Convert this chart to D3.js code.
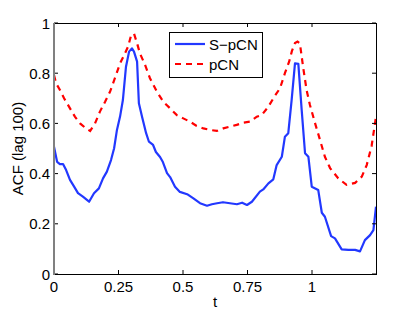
<!DOCTYPE html>
<html>
<head>
<meta charset="utf-8">
<script src="https://cdn.jsdelivr.net/npm/d3@7"></script>
<style>
  html, body { margin: 0; padding: 0; background: #fff; }
  svg { display: block; font-family: "Liberation Sans", Arial, sans-serif; }
</style>
</head>
<body>
<svg id="chart" width="415" height="312"></svg>
<script>
// S-pCN series (solid blue)
const sTime = [0, 0.012, 0.023, 0.035, 0.047, 0.062, 0.078, 0.093, 0.112, 0.136, 0.155, 0.174,
  0.190, 0.205, 0.221, 0.233, 0.244, 0.256, 0.267, 0.279, 0.291, 0.302, 0.310, 0.322, 0.329,
  0.341, 0.357, 0.368, 0.384, 0.395, 0.411, 0.422, 0.438, 0.450, 0.469, 0.488, 0.516, 0.539,
  0.566, 0.593, 0.612, 0.632, 0.655, 0.682, 0.709, 0.729, 0.748, 0.767, 0.798, 0.811, 0.831,
  0.850, 0.863, 0.883, 0.895, 0.908, 0.921, 0.934, 0.947, 0.960, 0.973, 0.986, 0.999, 1.024,
  1.038, 1.050, 1.074, 1.089, 1.115, 1.141, 1.167, 1.186, 1.205, 1.225, 1.238, 1.248];
const sAcf = [0.507, 0.447, 0.438, 0.438, 0.414, 0.375, 0.348, 0.322, 0.308, 0.288, 0.322, 0.341,
  0.381, 0.408, 0.454, 0.501, 0.574, 0.627, 0.693, 0.826, 0.886, 0.899, 0.886, 0.846, 0.680,
  0.627, 0.561, 0.527, 0.514, 0.486, 0.466, 0.446, 0.402, 0.386, 0.348, 0.327, 0.318, 0.302,
  0.282, 0.272, 0.278, 0.282, 0.286, 0.282, 0.278, 0.284, 0.275, 0.288, 0.328, 0.337, 0.361,
  0.377, 0.434, 0.467, 0.547, 0.561, 0.693, 0.839, 0.837, 0.653, 0.481, 0.467, 0.348, 0.335,
  0.244, 0.228, 0.151, 0.142, 0.098, 0.096, 0.096, 0.090, 0.135, 0.155, 0.175, 0.268];

// pCN series (dashed red)
const pTime = [0, 0.008, 0.023, 0.039, 0.062, 0.081, 0.101, 0.124, 0.140, 0.159, 0.178, 0.198,
  0.217, 0.236, 0.256, 0.275, 0.287, 0.298, 0.310, 0.322, 0.333, 0.353, 0.372, 0.399, 0.424,
  0.450, 0.476, 0.501, 0.527, 0.553, 0.579, 0.605, 0.631, 0.656, 0.682, 0.708, 0.734, 0.760,
  0.786, 0.805, 0.831, 0.853, 0.876, 0.895, 0.911, 0.922, 0.934, 0.944, 0.953, 0.966, 0.979,
  0.992, 1.012, 1.031, 1.050, 1.070, 1.102, 1.134, 1.167, 1.193, 1.212, 1.231, 1.248];
const pAcf = [0.793, 0.760, 0.733, 0.700, 0.660, 0.627, 0.600, 0.580, 0.570, 0.600, 0.647, 0.686,
  0.726, 0.780, 0.839, 0.879, 0.906, 0.948, 0.958, 0.919, 0.879, 0.833, 0.780, 0.726, 0.686,
  0.660, 0.633, 0.620, 0.607, 0.590, 0.580, 0.574, 0.570, 0.580, 0.587, 0.594, 0.603, 0.607,
  0.627, 0.633, 0.667, 0.705, 0.740, 0.800, 0.845, 0.888, 0.920, 0.926, 0.919, 0.821, 0.733,
  0.673, 0.600, 0.534, 0.467, 0.422, 0.381, 0.355, 0.363, 0.388, 0.434, 0.510, 0.627];

const xTicks = [0, 0.25, 0.5, 0.75, 1];
const yTicks = [0, 0.2, 0.4, 0.6, 0.8, 1];
const seriesNames = ["S\u2212pCN", "pCN"];

const m = {left: 54, right: 376, top: 23, bottom: 274};
const svg = d3.select("#chart");

const x = d3.scaleLinear().domain([0, 1.248]).range([m.left, m.right]);
const y = d3.scaleLinear().domain([0, 1]).range([m.bottom, m.top]);

const sData = sTime.map((t, i) => ({t, v: sAcf[i]}));
const pData = pTime.map((t, i) => ({t, v: pAcf[i]}));
const line = d3.line().x(d => x(d.t)).y(d => y(d.v));

// clip to axes box
svg.append("clipPath").attr("id", "clip")
  .append("rect").attr("x", m.left).attr("y", m.top)
  .attr("width", m.right - m.left).attr("height", m.bottom - m.top);

const plot = svg.append("g").attr("clip-path", "url(#clip)");
plot.append("path").datum(sData)
  .attr("d", line).attr("fill", "none")
  .attr("stroke", "#2238ff").attr("stroke-width", 2.2)
  .attr("stroke-linejoin", "round");
plot.append("path").datum(pData)
  .attr("d", line).attr("fill", "none")
  .attr("stroke", "#ff0000").attr("stroke-width", 2.2)
  .attr("stroke-dasharray", "6,5");

// ticks (inside, mirrored) and box
const tl = 4;
const ticks = svg.append("g").attr("stroke", "#000").attr("stroke-width", 1);
xTicks.forEach(t => {
  ticks.append("line").attr("x1", x(t)).attr("x2", x(t)).attr("y1", m.bottom).attr("y2", m.bottom - tl);
  ticks.append("line").attr("x1", x(t)).attr("x2", x(t)).attr("y1", m.top).attr("y2", m.top + tl);
});
yTicks.forEach(v => {
  ticks.append("line").attr("x1", m.left).attr("x2", m.left + tl).attr("y1", y(v)).attr("y2", y(v));
  ticks.append("line").attr("x1", m.right).attr("x2", m.right - tl).attr("y1", y(v)).attr("y2", y(v));
});

svg.append("line").attr("x1", m.left).attr("x2", m.right).attr("y1", m.top + 0.5).attr("y2", m.top + 0.5).attr("stroke", "#000");
svg.append("line").attr("x1", m.left).attr("x2", m.right).attr("y1", m.bottom + 0.5).attr("y2", m.bottom + 0.5).attr("stroke", "#000");
svg.append("line").attr("x1", m.right + 0.5).attr("x2", m.right + 0.5).attr("y1", m.top).attr("y2", m.bottom + 1).attr("stroke", "#000");
svg.append("line").attr("x1", m.left).attr("x2", m.left).attr("y1", m.top).attr("y2", m.bottom + 1).attr("stroke", "#808080").attr("stroke-width", 2);

// tick labels
svg.append("g").selectAll("text").data(xTicks).join("text")
  .attr("x", d => x(d)).attr("y", 292)
  .attr("text-anchor", "middle").attr("font-size", 15)
  .text(d => d3.format("~g")(d));
svg.append("g").selectAll("text").data(yTicks).join("text")
  .attr("x", 50).attr("y", d => y(d) + 5.5)
  .attr("text-anchor", "end").attr("font-size", 15)
  .text(d => d3.format("~g")(d));

// axis labels
svg.append("text").attr("x", (m.left + m.right) / 2).attr("y", 307)
  .attr("text-anchor", "middle").attr("font-size", 15).text("t");
svg.append("text")
  .attr("transform", `translate(22.5,${(m.top + m.bottom) / 2}) rotate(-90)`)
  .attr("text-anchor", "middle").attr("font-size", 15).text("ACF (lag 100)");

// legend
const lg = svg.append("g");
lg.append("rect").attr("x", 169.5).attr("y", 32.5).attr("width", 93).attr("height", 45)
  .attr("fill", "#fff").attr("stroke", "#000");
const legendStyles = [{c: "#2238ff", dash: null}, {c: "#ff0000", dash: "6,5"}];
seriesNames.forEach((name, i) => {
  const ly = 44 + i * 20;
  lg.append("line").attr("x1", 175).attr("x2", 205).attr("y1", ly).attr("y2", ly)
    .attr("stroke", legendStyles[i].c).attr("stroke-width", 2.2)
    .attr("stroke-dasharray", legendStyles[i].dash);
  lg.append("text").attr("x", 209).attr("y", ly + 5.5).attr("font-size", 15).text(name);
});
</script>
</body>
</html>
